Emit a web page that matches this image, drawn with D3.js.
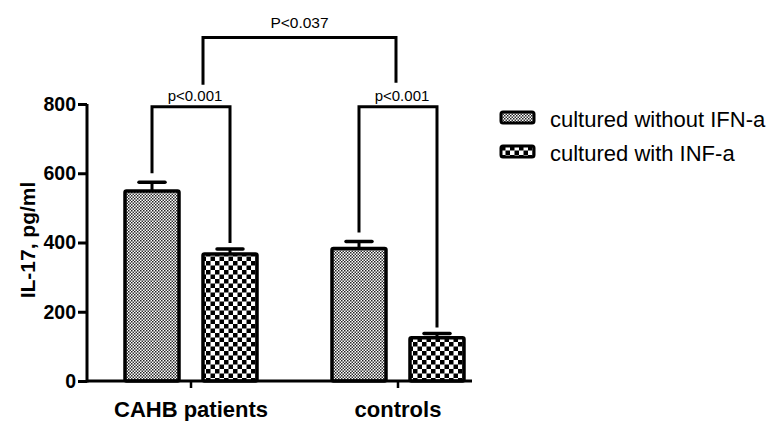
<!DOCTYPE html>
<html>
<head>
<meta charset="utf-8">
<script src="https://cdn.jsdelivr.net/npm/d3@7"></script>
<style>
  body { margin: 0; background: #fff; }
  text { font-family: "Liberation Sans", Arial, sans-serif; }
</style>
</head>
<body>
<svg id="plot"></svg>
<script>
// data
const groups = ["CAHB patients", "controls"];
const series = ["cultured without IFN-a", "cultured with INF-a"];
const means = [[549, 367], [383, 125]];
const errs = [[25, 14], [20, 12]];
const yTicks = [0, 200, 400, 600, 800];
const pInner = ["p<0.001", "p<0.001"];
const pOuter = "P<0.037";

// init setting
const svg = d3.select("#plot").attr("width", 771).attr("height", 421);
const defs = svg.append("defs");

// fine checker for series 0
const p0 = defs.append("pattern").attr("id", "fine")
    .attr("patternUnits", "userSpaceOnUse").attr("width", 3).attr("height", 3);
p0.append("rect").attr("width", 3).attr("height", 3).attr("fill", "#fff");
p0.append("rect").attr("width", 1.5).attr("height", 1.5).attr("fill", "#222");
p0.append("rect").attr("x", 1.5).attr("y", 1.5).attr("width", 1.5).attr("height", 1.5).attr("fill", "#333");

// coarse checker for series 1
const p1 = defs.append("pattern").attr("id", "coarse")
    .attr("patternUnits", "userSpaceOnUse").attr("width", 9).attr("height", 9);
p1.append("rect").attr("width", 9).attr("height", 9).attr("fill", "#fff");
p1.append("rect").attr("width", 4.5).attr("height", 4.5).attr("fill", "#000");
p1.append("rect").attr("x", 4.5).attr("y", 4.5).attr("width", 4.5).attr("height", 4.5).attr("fill", "#000");
const fills = ["url(#fine)", "url(#coarse)"];

// scales
const y = d3.scaleLinear().domain([0, 800]).range([381, 104]);
const x0 = d3.scaleBand().domain(groups).range([87.5, 501.5]).paddingInner(0.3623).paddingOuter(0.1812);
const x1 = d3.scaleBand().domain(d3.range(series.length)).range([0, x0.bandwidth()]).paddingInner(0.3077);

// y axis
const yAxis = svg.append("g").attr("transform", "translate(87,0)")
    .call(d3.axisLeft(y).tickValues(yTicks).tickSize(9).tickPadding(2));
yAxis.select(".domain").attr("stroke-width", 3).attr("d", "M0,104V382.5");
yAxis.selectAll(".tick line").attr("stroke-width", 3);
yAxis.selectAll(".tick text").attr("font-size", 19.5).attr("font-weight", "bold").attr("fill", "#000");

// y label
svg.append("text")
    .attr("transform", "translate(35,240) rotate(-90)")
    .attr("text-anchor", "middle")
    .attr("font-size", 21).attr("font-weight", "bold")
    .text("IL-17, pg/ml");

// bars
const gGroups = svg.selectAll(".grp").data(groups).enter().append("g")
    .attr("transform", d => `translate(${x0(d)},0)`);

gGroups.each(function(g, gi) {
    const sel = d3.select(this);
    means[gi].forEach((v, si) => {
        const bx = x1(si), bw = x1.bandwidth(), cx = bx + bw / 2;
        sel.append("line").attr("x1", cx).attr("x2", cx)
            .attr("y1", y(v)).attr("y2", y(v + errs[gi][si]))
            .attr("stroke", "#000").attr("stroke-width", 3);
        sel.append("line").attr("x1", cx - 13).attr("x2", cx + 13)
            .attr("y1", y(v + errs[gi][si])).attr("y2", y(v + errs[gi][si]))
            .attr("stroke", "#000").attr("stroke-width", 3.5).attr("stroke-linecap", "round");
        sel.append("rect").attr("x", bx).attr("y", y(v))
            .attr("width", bw).attr("height", y(0) - y(v))
            .attr("fill", fills[si]).attr("stroke", "#000").attr("stroke-width", 3.5)
            .attr("rx", 1.5);
    });
});

// x axis
const xAxis = svg.append("g").attr("transform", "translate(0,381)")
    .call(d3.axisBottom(x0).tickSize(7).tickPadding(13));
xAxis.select(".domain").attr("stroke-width", 3).attr("d", "M87,0H472");
xAxis.selectAll(".tick line").attr("stroke-width", 2.5);
xAxis.selectAll(".tick text").attr("font-size", 22).attr("font-weight", "bold").attr("fill", "#000");

// significance brackets
const barCx = (gi, si) => x0(groups[gi]) + x1(si) + x1.bandwidth() / 2;
const topY = y(792);
groups.forEach((g, gi) => {
    const l = barCx(gi, 0), r = barCx(gi, 1);
    const ly = y(means[gi][0] + errs[gi][0]) - 9;
    const ry = y(means[gi][1] + errs[gi][1]) - 6;
    svg.append("path")
        .attr("d", `M${l},${ly}V${topY}H${r}V${ry}`)
        .attr("fill", "none").attr("stroke", "#000").attr("stroke-width", 3);
    svg.append("text").attr("x", (l + r) / 2 + 4).attr("y", topY - 6)
        .attr("text-anchor", "middle").attr("font-size", 15).text(pInner[gi]);
});
const oL = (barCx(0, 0) + barCx(0, 1)) / 2 + 12;
const oR = (barCx(1, 0) + barCx(1, 1)) / 2 - 2;
const oY = y(992);
svg.append("path")
    .attr("d", `M${oL},${topY - 22}V${oY}H${oR}V${topY - 24}`)
    .attr("fill", "none").attr("stroke", "#000").attr("stroke-width", 3);
svg.append("text").attr("x", (oL + oR) / 2).attr("y", oY - 10)
    .attr("text-anchor", "middle").attr("font-size", 15.5).text(pOuter);

// legend
const leg = svg.append("g").attr("transform", "translate(501,112)");
series.forEach((s, i) => {
    const row = leg.append("g").attr("transform", `translate(0,${i * 34})`);
    row.append("rect").attr("width", 33).attr("height", 11).attr("rx", 2)
        .attr("fill", fills[i]).attr("stroke", "#000").attr("stroke-width", 3);
    row.append("text").attr("x", 49).attr("y", 15).attr("font-size", 22).text(s);
});
</script>
</body>
</html>
